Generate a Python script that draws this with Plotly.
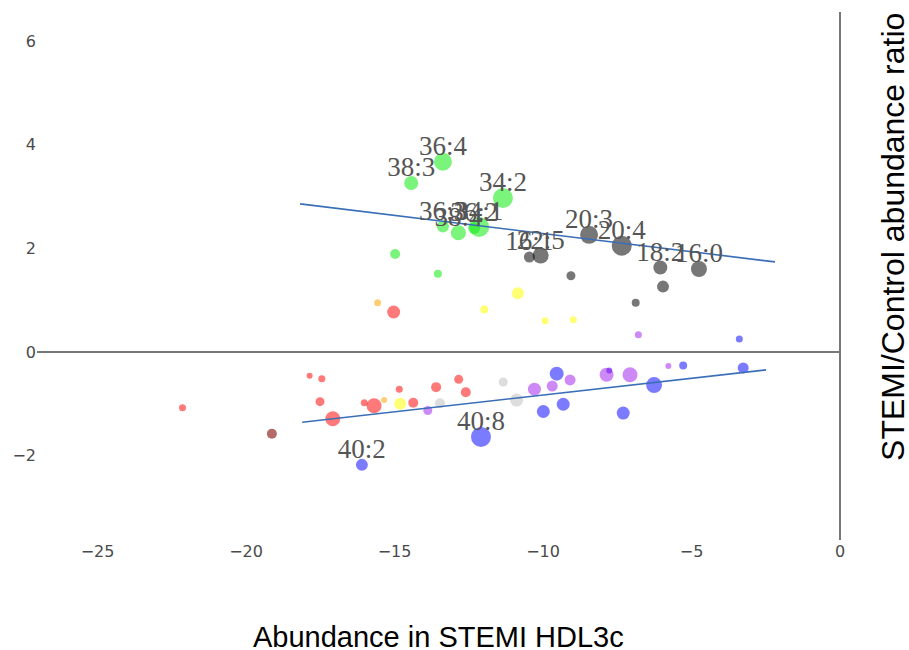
import plotly.graph_objects as go

# Lipid species: position, marker diameter, class and label
lipid_x = [-13.37, -14.44, -11.35, -13.37, -12.85, -12.32, -12.15, -14.98, -13.54,
           -8.45, -7.35, -6.05, -4.75, -10.46, -10.08, -9.06, -5.96, -6.88,
           -10.85, -11.98, -9.93, -8.98, -14.81,
           -15.57, -15.35,
           -15.03, -22.14, -17.86, -17.45, -17.51, -17.08, -16.02, -15.69, -14.84, -14.37, -13.60, -12.84, -12.60,
           -19.13,
           -13.88, -10.29, -9.69, -9.09, -7.86, -7.07, -5.78, -6.79,
           -7.77,
           -13.47, -11.34, -10.89,
           -9.54, -9.99, -9.32, -7.30, -6.26, -5.28, -3.26, -3.39, -12.09, -16.10]
lipid_y = [3.67, 3.26, 2.97, 2.42, 2.30, 2.39, 2.41, 1.89, 1.51,
           2.26, 2.05, 1.63, 1.60, 1.83, 1.86, 1.47, 1.26, 0.95,
           1.13, 0.82, 0.60, 0.62, -1.00,
           0.95, -0.93,
           0.77, -1.08, -0.46, -0.52, -0.96, -1.29, -0.98, -1.04, -0.72, -0.98, -0.68, -0.53, -0.78,
           -1.58,
           -1.13, -0.72, -0.66, -0.54, -0.44, -0.44, -0.27, 0.33,
           -0.36,
           -0.99, -0.58, -0.93,
           -0.42, -1.15, -1.01, -1.18, -0.64, -0.26, -0.31, 0.25, -1.64, -2.18]
lipid_size = [18, 14, 20, 12, 15, 12, 20, 10, 8,
              18, 20, 14, 16, 11, 16, 9, 12, 8,
              12, 8, 7, 7, 12,
              7, 6,
              13, 7, 6, 7, 9, 15, 7, 15, 7, 10, 10, 9, 10,
              10,
              9, 13, 11, 11, 14, 15, 6, 7,
              6,
              10, 9, 13,
              14, 13, 13, 13, 16, 8, 11, 7, 20, 12]
lipid_class = (["green"] * 9 + ["black"] * 9 + ["yellow"] * 5 + ["orange"] * 2
               + ["red"] * 13 + ["darkred"] + ["purple"] * 8 + ["blueviolet"]
               + ["grey"] * 3 + ["blue"] * 10)
lipid_label = ["36:4", "38:3", "34:2", "36:3", "38:4", "36:2", "34:1", "", "",
               "20:3", "20:4", "18:2", "16:0", "16:1", "22:5", "", "", "",
               "", "", "", "", "",
               "", "",
               "", "", "", "", "", "", "", "", "", "", "", "", "",
               "",
               "", "", "", "", "", "", "", "",
               "",
               "", "", "",
               "", "", "", "", "", "", "", "", "40:8", "40:2"]

# Trend lines for the increased and decreased species
fit_up_x = [-18.18, -2.19]
fit_up_y = [2.857, 1.737]
fit_down_x = [-18.11, -2.49]
fit_down_y = [-1.357, -0.347]

class_colors = {
    "green": "rgba(20,235,20,0.8)",
    "black": "rgba(0,0,0,0.76)",
    "yellow": "rgba(255,255,0,0.78)",
    "orange": "rgba(255,165,0,0.78)",
    "red": "rgba(255,0,0,0.75)",
    "darkred": "rgba(125,5,5,0.85)",
    "purple": "rgba(160,32,240,0.75)",
    "blueviolet": "rgba(110,20,240,0.85)",
    "grey": "rgba(190,190,190,0.75)",
    "blue": "rgba(0,0,255,0.74)",
}

fig = go.Figure()

for cls, col in class_colors.items():
    idx = [i for i, c in enumerate(lipid_class) if c == cls]
    fig.add_trace(go.Scatter(
        x=[lipid_x[i] for i in idx],
        y=[lipid_y[i] for i in idx],
        mode="markers",
        marker=dict(size=[lipid_size[i] for i in idx], color=col, line=dict(width=0)),
        hoverinfo="x+y",
        showlegend=False,
    ))

line_color = "#3a6fb8"
fig.add_trace(go.Scatter(x=fit_up_x, y=fit_up_y, mode="lines",
                         line=dict(color=line_color, width=1.6), showlegend=False))
fig.add_trace(go.Scatter(x=fit_down_x, y=fit_down_y, mode="lines",
                         line=dict(color=line_color, width=1.6), showlegend=False))

lab_idx = [i for i, t in enumerate(lipid_label) if t]
fig.add_trace(go.Scatter(
    x=[lipid_x[i] for i in lab_idx],
    y=[lipid_y[i] for i in lab_idx],
    text=[lipid_label[i] for i in lab_idx],
    mode="text",
    textposition="top center",
    textfont=dict(family="Liberation Serif", size=27, color="#555555"),
    showlegend=False,
    hoverinfo="skip",
))

fig.update_layout(
    width=909, height=650,
    margin=dict(l=37, r=69, t=12, b=110),
    plot_bgcolor="white", paper_bgcolor="white",
    font=dict(family="DejaVu Sans", size=16, color="#4a4a4a"),
    xaxis=dict(range=[-27.04, 0], tickvals=[-25, -20, -15, -10, -5, 0],
               showgrid=False, zeroline=True, zerolinecolor="#777", zerolinewidth=1.5,
               showline=False, ticks=""),
    yaxis=dict(range=[-3.63, 6.56], tickvals=[-2, 0, 2, 4, 6],
               showgrid=False, zeroline=True, zerolinecolor="#777", zerolinewidth=1.5,
               showline=False, ticks=""),
    annotations=[
        dict(text="Abundance in STEMI HDL3c", xref="paper", yref="paper",
             x=0.5, y=-0.1837, xanchor="center", yanchor="middle", showarrow=False,
             font=dict(family="Liberation Sans", size=29, color="black")),
        dict(text="STEMI/Control abundance ratio", xref="paper", yref="paper",
             x=1.066, y=0.574, xanchor="center", yanchor="middle", showarrow=False,
             textangle=-90,
             font=dict(family="Liberation Sans", size=32, color="black")),
    ],
)

fig.write_html("out.html")
